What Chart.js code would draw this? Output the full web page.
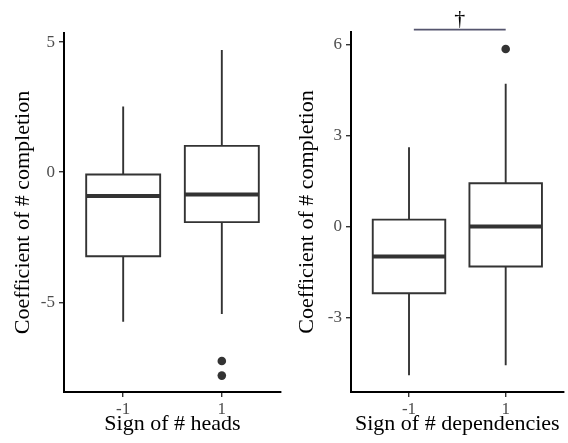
<!DOCTYPE html>
<html>
<head>
<meta charset="utf-8">
<script src="https://cdn.jsdelivr.net/npm/chart.js@4.4.1/dist/chart.umd.min.js"></script>
<style>
  html, body { margin: 0; padding: 0; background: #fff; }
  #wrap { position: relative; width: 568px; height: 443px; }
  #left { position: absolute; left: 0; top: 0; }
  #right { position: absolute; left: 290px; top: 0; }
</style>
</head>
<body>
<div id="wrap">
  <canvas id="left" width="290" height="443"></canvas>
  <canvas id="right" width="278" height="443"></canvas>
</div>
<script>
// categories (ggplot puts them at positions 1 and 2)
const groups = [1, 2];
const groupLabels = ["-1", "1"];

// panel 1: sign of # heads
const headsMin = [-5.75, -5.45];
const headsQ1 = [-3.23, -1.92];
const headsMedian = [-0.92, -0.86];
const headsQ3 = [-0.09, 1.01];
const headsMax = [2.52, 4.70];
const headsOutliers = [[], [-7.26, -7.82]];
const headsTicks = [-5, 0, 5];

// panel 2: sign of # dependencies
const depsMin = [-4.91, -4.58];
const depsQ1 = [-2.20, -1.32];
const depsMedian = [-0.99, 0.0];
const depsQ3 = [0.23, 1.43];
const depsMax = [2.62, 4.71];
const depsOutliers = [[], [5.86]];
const depsTicks = [-3, 0, 3, 6];

// significance bracket over panel 2
const sigX = [1.05, 2];
const sigY = 6.5;
const sigLabel = "\u2020";

const FONT = "'Liberation Serif', 'DejaVu Serif', serif";
const INK = "#333333";

function boxDatasets(mins, q1s, meds, q3s, maxs, outliers) {
  const half = 0.375;
  const boxPts = [], whiskPts = [], medPts = [], outPts = [];
  groups.forEach((x, i) => {
    boxPts.push(
      { x: x - half, y: q1s[i] }, { x: x + half, y: q1s[i] },
      { x: x + half, y: q3s[i] }, { x: x - half, y: q3s[i] },
      { x: x - half, y: q1s[i] }, { x: x + half, y: q1s[i] },
      { x: x, y: null }
    );
    whiskPts.push(
      { x: x, y: q3s[i] }, { x: x, y: maxs[i] }, { x: x, y: null },
      { x: x, y: q1s[i] }, { x: x, y: mins[i] }, { x: x, y: null }
    );
    medPts.push({ x: x - half, y: meds[i] }, { x: x + half, y: meds[i] }, { x: x, y: null });
    outliers[i].forEach(v => outPts.push({ x: x, y: v }));
  });
  const line = { showLine: true, pointRadius: 0, fill: false, borderColor: INK, borderJoinStyle: "miter", borderCapStyle: "butt" };
  return [
    Object.assign({ data: whiskPts, borderWidth: 1.9 }, line),
    Object.assign({ data: boxPts, borderWidth: 1.9 }, line),
    Object.assign({ data: medPts, borderWidth: 4 }, line),
    { data: outPts, showLine: false, pointRadius: 4.3, backgroundColor: INK, borderWidth: 0 }
  ];
}

// draws the dagger above the bracket line
const sigPlugin = {
  id: "sigLabel",
  afterDatasetsDraw(chart, args, opts) {
    if (!opts.text) return;
    const { ctx, scales } = chart;
    const x = scales.x.getPixelForValue((opts.x[0] + opts.x[1]) / 2);
    const y = scales.y.getPixelForValue(opts.y);
    ctx.save();
    ctx.fillStyle = "#000";
    ctx.font = "22px " + FONT;
    ctx.textAlign = "center";
    ctx.textBaseline = "bottom";
    ctx.fillText(opts.text, x, y + 1);
    ctx.restore();
  }
};

function makeChart(id, cfg) {
  const datasets = boxDatasets(cfg.min, cfg.q1, cfg.med, cfg.q3, cfg.max, cfg.out);
  if (cfg.sig) {
    datasets.push({
      data: cfg.sig.x.map(v => ({ x: v, y: cfg.sig.y })),
      showLine: true, pointRadius: 0, borderColor: "#55556e", borderWidth: 1.6, clip: false
    });
  }
  return new Chart(document.getElementById(id), {
    type: "scatter",
    data: { datasets },
    plugins: [sigPlugin],
    options: {
      responsive: false,
      animation: false,
      layout: { padding: cfg.padding },
      plugins: {
        legend: { display: false },
        tooltip: { enabled: false },
        sigLabel: cfg.sig ? { text: cfg.sig.text, x: cfg.sig.x, y: cfg.sig.y } : {}
      },
      scales: {
        x: {
          type: "linear",
          min: 0.4,
          max: 2.6,
          afterBuildTicks: s => { s.ticks = groups.map(v => ({ value: v })); },
          afterFit: s => { s.height = 51; },
          ticks: {
            callback: (v, i) => groupLabels[i],
            color: "#4d4d4d",
            font: { family: FONT, size: 17 },
            padding: 2,
            maxRotation: 0
          },
          grid: { drawOnChartArea: false, drawTicks: true, tickLength: 5, color: INK, lineWidth: 1.4 },
          border: { display: true, color: "#000", width: 2 },
          title: {
            display: true,
            text: cfg.xTitle,
            color: "#000",
            font: { family: FONT, size: 22 },
            padding: { top: 0, bottom: 6 }
          }
        },
        y: {
          min: cfg.yMin,
          max: cfg.yMax,
          afterBuildTicks: s => { s.ticks = cfg.ticks.map(v => ({ value: v })); },
          afterFit: s => { s.width = cfg.yWidth; },
          ticks: {
            color: "#4d4d4d",
            font: { family: FONT, size: 17 },
            padding: 4
          },
          grid: { drawOnChartArea: false, drawTicks: true, tickLength: 5, color: INK, lineWidth: 1.4 },
          border: { display: true, color: "#000", width: 2 },
          title: {
            display: true,
            text: "Coefficient of # completion",
            color: "#000",
            font: { family: FONT, size: 22 },
            padding: { top: cfg.yTitlePad, bottom: 0 }
          }
        }
      }
    }
  });
}

makeChart("left", {
  min: headsMin, q1: headsQ1, med: headsMedian, q3: headsQ3, max: headsMax, out: headsOutliers,
  ticks: headsTicks, yMin: -8.45, yMax: 5.35, yWidth: 64, yTitlePad: 10,
  padding: { top: 33, right: 9, left: 0, bottom: 0 },
  xTitle: "Sign of # heads"
});

makeChart("right", {
  min: depsMin, q1: depsQ1, med: depsMedian, q3: depsQ3, max: depsMax, out: depsOutliers,
  ticks: depsTicks, yMin: -5.46, yMax: 6.42, yWidth: 61, yTitlePad: 4,
  padding: { top: 32, right: 2, left: 0, bottom: 0 },
  xTitle: "Sign of # dependencies",
  sig: { x: sigX, y: sigY, text: sigLabel }
});
</script>
</body>
</html>
